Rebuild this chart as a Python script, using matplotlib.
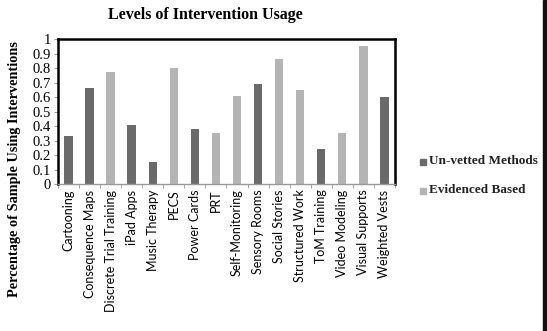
import matplotlib
matplotlib.use("Agg")
import matplotlib.pyplot as plt
from matplotlib.patches import Rectangle

categories = ["Cartooning", "Consequence Maps", "Discrete Trial Training", "iPad Apps",
              "Music Therapy", "PECS", "Power Cards", "PRT", "Self-Monitoring",
              "Sensory Rooms", "Social Stories", "Structured Work", "ToM Training",
              "Video Modeling", "Visual Supports", "Weighted Vests"]
values = [0.33, 0.66, 0.77, 0.41, 0.15, 0.80, 0.38, 0.35, 0.61,
          0.69, 0.86, 0.65, 0.24, 0.35, 0.95, 0.60]
groups = ["Un-vetted Methods", "Un-vetted Methods", "Evidenced Based", "Un-vetted Methods",
          "Un-vetted Methods", "Evidenced Based", "Un-vetted Methods", "Evidenced Based",
          "Evidenced Based", "Un-vetted Methods", "Evidenced Based", "Evidenced Based",
          "Un-vetted Methods", "Evidenced Based", "Evidenced Based", "Un-vetted Methods"]
yticks = [0, 0.1, 0.2, 0.3, 0.4, 0.5, 0.6, 0.7, 0.8, 0.9, 1]
ytick_labels = ["0", "0.1", "0.2", "0.3", "0.4", "0.5", "0.6", "0.7", "0.8", "0.9", "1"]

colors = {"Un-vetted Methods": "#6a6a6a", "Evidenced Based": "#b4b4b4"}
serif = "Liberation Serif"

fig = plt.figure(figsize=(5.47, 3.31), dpi=100)
ax = fig.add_axes([0.106, 0.444, 0.616, 0.438])

x = list(range(len(categories)))
ax.bar(x, values, width=0.4, color=[colors[g] for g in groups], zorder=2)

ax.set_xlim(-0.5, len(categories) - 0.5)
ax.set_ylim(0, 1)
ax.set_yticks(yticks)
ax.set_yticklabels(ytick_labels, fontsize=10.5, fontfamily=serif)
ax.set_xticks(x)
ax.set_xticklabels(categories, rotation=90, fontsize=9, fontfamily="Lato")
ax.tick_params(axis="x", length=0, pad=4)
ax.tick_params(axis="y", length=3, width=0.6, color="#888888", pad=2)

# category boundary ticks on the bottom axis
ax.set_xticks([i - 0.5 for i in range(len(categories) + 1)], minor=True)
ax.tick_params(axis="x", which="minor", length=3, width=0.6, color="#999999")

for side in ["left", "top", "right"]:
    ax.spines[side].set_color("black")
    ax.spines[side].set_linewidth(1.8)
ax.spines["bottom"].set_color("#999999")
ax.spines["bottom"].set_linewidth(1.0)

fig.text(0.375, 0.955, "Levels of Intervention Usage", ha="center", va="center",
         fontsize=11.5, fontweight="bold", fontfamily=serif)
fig.text(0.026, 0.49, "Percentage of Sample Using Interventions", rotation=90,
         ha="center", va="center", fontsize=10.3, fontweight="bold", fontfamily=serif)

# legend
for yy, label in [(0.513, "Un-vetted Methods"), (0.425, "Evidenced Based")]:
    fig.patches.append(Rectangle((0.767, yy - 0.012), 0.011, 0.018,
                                 transform=fig.transFigure, color=colors[label]))
    fig.text(0.785, yy, label, ha="left", va="center", fontsize=9.5,
             fontweight="bold", fontfamily=serif, color="#222222")

# right edge border strip
fig.patches.append(Rectangle((0.992, 0), 0.008, 1, transform=fig.transFigure,
                             color="#111111"))

fig.savefig("out.png", dpi=100)
